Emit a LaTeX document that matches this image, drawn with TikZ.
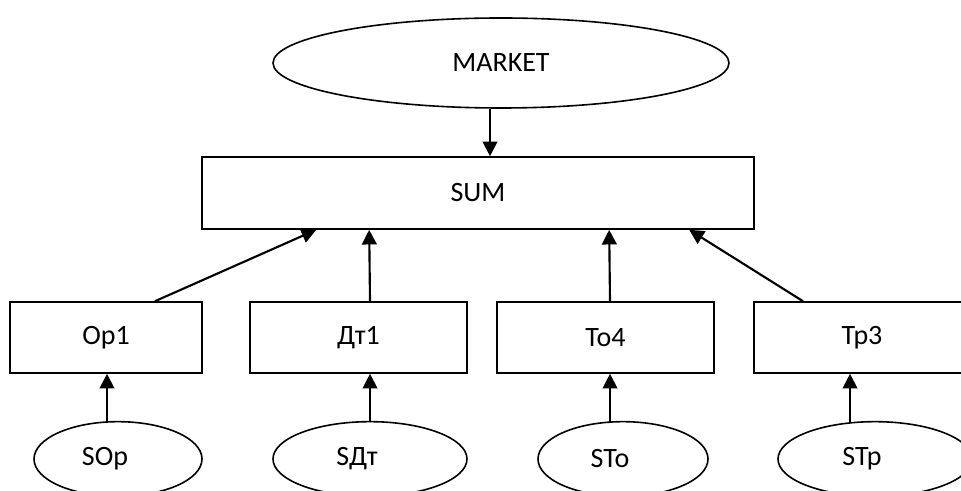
\documentclass[tikz,border=0pt]{standalone}
\usepackage{fontspec}
\setmainfont{Carlito}
\usetikzlibrary{shapes.geometric,arrows.meta,calc}
\begin{document}
\begin{tikzpicture}[x=0.75pt,y=-0.75pt,
  lbl/.style={font=\fontsize{21}{25}\selectfont},
  box/.style={lbl,draw,line width=1.2pt,rectangle,minimum height=53.25pt,inner sep=0pt},
  oval/.style={lbl,draw,line width=1.2pt,ellipse,inner sep=0pt},
  sub/.style={oval,minimum height=56pt},
  arr/.style={line width=1.6pt,-{Triangle[length=11pt,width=11pt]}}]
\useasboundingbox (0,0) rectangle (961,491);
\clip (0,0) rectangle (961,491);
\fill[white] (0,0) rectangle (961,491);
% top
\node[oval,minimum width=342pt,minimum height=67.5pt] (market) at (501,63) {MARKET};
\node[box,minimum width=414pt,minimum height=54pt] (sum) at (478,193) {SUM};
% middle boxes
\node[box,minimum width=144pt] (op1) at (106,337.5) {Op1};
\node[box,minimum width=162.75pt] (dt1) at (358.5,337.5) {Дт1};
\node[box,minimum width=162.75pt] (to4) at (605.5,337.5) {To4};
\node[box,minimum width=162pt] (tp3) at (862,337.5) {Tp3};
% bottom ellipses
\node[sub,minimum width=126pt] (sop) at (118,459) {\hspace*{-19.5pt}SOp};
\node[sub,minimum width=145.5pt] (sdt) at (370,459) {\hspace*{-19.5pt}SДт};
\node[sub,minimum width=127.5pt] (sto) at (623,459) {\hspace*{-19.5pt}STo};
\node[sub,minimum width=145.5pt] (stp) at (875,459) {\hspace*{-19.5pt}STp};
% connector end points
\coordinate (mk) at ($(market.south)+(-11,0)$);
\coordinate (a1) at ($(op1.north)+(49,0)$);
\coordinate (a2) at ($(dt1.north)+(11.5,0)$);
\coordinate (a3) at ($(to4.north)+(4.5,0)$);
\coordinate (a4) at ($(tp3.north)+(-59,0)$);
\coordinate (b1) at ($(sum.south west)+(115,0)$);
\coordinate (b2) at ($(sum.south west)+(168,0)$);
\coordinate (b3) at ($(sum.south west)+(408,0)$);
\coordinate (b4) at ($(sum.south west)+(488,0)$);
\coordinate (s1) at ($(sop.north)+(-11,1)$);
\coordinate (s2) at ($(sdt.north)+(0,0)$);
\coordinate (s3) at ($(sto.north)+(-13,1)$);
\coordinate (s4) at ($(stp.north)+(-25,1)$);
% connectors
\draw[arr] (mk) -- (mk |- sum.north);
\draw[arr] (a1) -- (b1);
\draw[arr] (a2) -- (b2);
\draw[arr] (a3) -- (b3);
\draw[arr] (a4) -- (b4);
\draw[arr] (s1) -- (s1 |- op1.south);
\draw[arr] (s2) -- (s2 |- dt1.south);
\draw[arr] (s3) -- (s3 |- to4.south);
\draw[arr] (s4) -- (s4 |- tp3.south);
\end{tikzpicture}
\end{document}
